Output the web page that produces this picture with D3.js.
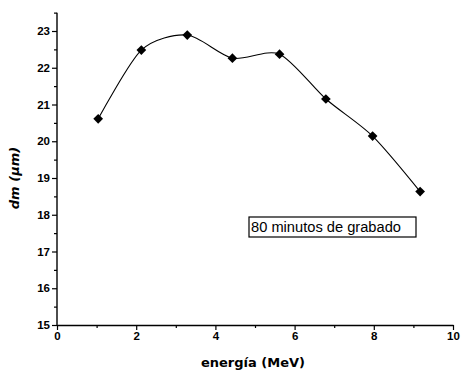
<!DOCTYPE html>
<html>
<head>
<meta charset="utf-8">
<script src="https://cdn.jsdelivr.net/npm/d3@7"></script>
<style>
  body { margin: 0; background: #fff; }
  svg { display: block; font-family: "DejaVu Sans", sans-serif; }
</style>
</head>
<body>
<div id="chart"></div>
<script>
// energia (MeV) vs dm (um)
const energy = [1.04, 2.13, 3.29, 4.43, 5.62, 6.79, 7.97, 9.17];
const dm = [20.61, 22.48, 22.89, 22.26, 22.37, 21.15, 20.14, 18.63];
const xTicks = [0, 2, 4, 6, 8, 10];
const yTicks = [15, 16, 17, 18, 19, 20, 21, 22, 23];
const legendLabel = '80 minutos de grabado';

const width = 463, height = 374;
const m = {left: 57, right: 10, top: 13, bottom: 49};

const svg = d3.select('#chart').append('svg')
  .attr('width', width).attr('height', height);

const x = d3.scaleLinear().domain([0, 10]).range([m.left, 453]);
const y = d3.scaleLinear().domain([15, 23]).range([325, 31]);

// minor ticks first
svg.append('g')
  .attr('transform', `translate(0,${y(15)})`)
  .call(d3.axisBottom(x).tickValues(d3.range(1, 10, 2)).tickSize(3).tickFormat(''))
  .call(g => g.select('.domain').remove());
svg.append('g')
  .attr('transform', `translate(${x(0)},0)`)
  .call(d3.axisLeft(y).tickValues(d3.range(15.5, 23.6, 1)).tickSize(3).tickFormat(''))
  .call(g => g.select('.domain').remove());

const xAxis = svg.append('g')
  .attr('transform', `translate(0,${y(15)})`)
  .call(d3.axisBottom(x).tickValues(xTicks).tickSize(5).tickPadding(2).tickSizeOuter(0));
const yAxis = svg.append('g')
  .attr('transform', `translate(${x(0)},0)`)
  .call(d3.axisLeft(y).tickValues(yTicks).tickSize(5).tickPadding(2).tickSizeOuter(0));

// stretch y axis line up to 23.5
yAxis.select('.domain').attr('d', `M0,${y(15)}V${y(23.5)}`);

[xAxis, yAxis].forEach(g => {
  g.selectAll('path, line').attr('stroke', '#000').attr('stroke-width', 1.4);
  g.selectAll('text').attr('font-size', 11.5).attr('font-weight', 'bold').attr('fill', '#000');
});
svg.selectAll('g line').attr('stroke', '#000').attr('stroke-width', 1.2);

const line = d3.line()
  .x((d, i) => x(energy[i]))
  .y(d => y(d))
  .curve(d3.curveCardinal.tension(0.2));

svg.append('path')
  .datum(dm)
  .attr('d', line)
  .attr('fill', 'none')
  .attr('stroke', '#000')
  .attr('stroke-width', 1.1);

svg.append('g').selectAll('path')
  .data(dm)
  .join('path')
  .attr('transform', (d, i) => `translate(${x(energy[i])},${y(d)})`)
  .attr('d', d3.symbol(d3.symbolDiamond2, 60))
  .attr('fill', '#000');

// legend box
const lg = svg.append('g').attr('transform', 'translate(249,217)');
lg.append('rect')
  .attr('width', 167).attr('height', 20)
  .attr('fill', '#fff').attr('stroke', '#000').attr('stroke-width', 1.2);
lg.append('text')
  .attr('x', 2).attr('y', 15)
  .attr('font-family', '"Liberation Sans", Arial, sans-serif')
  .attr('font-size', 14)
  .attr('textLength', 150)
  .attr('lengthAdjust', 'spacingAndGlyphs')
  .text(legendLabel);

// axis titles
svg.append('text')
  .attr('x', 253).attr('y', 367)
  .attr('text-anchor', 'middle')
  .attr('font-size', 13).attr('font-weight', 'bold')
  .text('energía (MeV)');

svg.append('text')
  .attr('transform', 'translate(19,178) rotate(-90)')
  .attr('text-anchor', 'middle')
  .attr('font-size', 13).attr('font-weight', 'bold').attr('font-style', 'italic')
  .text('dm (µm)');
</script>
</body>
</html>
